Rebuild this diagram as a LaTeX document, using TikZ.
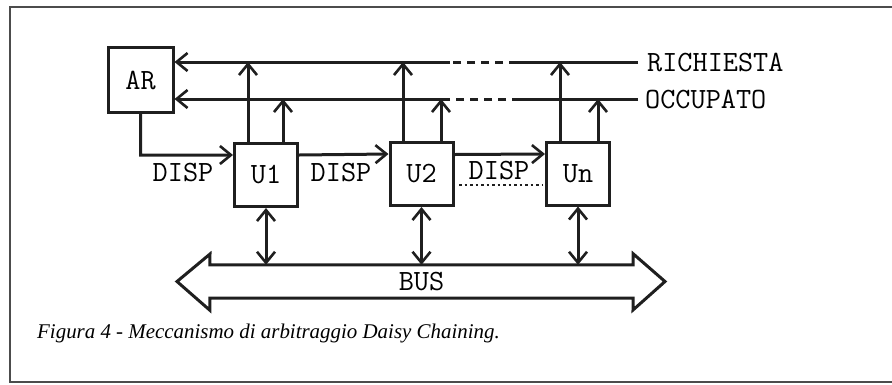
\documentclass[tikz,border=0pt]{standalone}
\usepackage{fontspec}
\setmainfont{Liberation Serif}
\usetikzlibrary{arrows.meta}
\tikzset{
  ln/.style={line width=3bp, draw=black!88},
  tip/.tip={Straight Barb[length=11bp,width=18bp,line width=2.6bp]},
  arr/.style={ln, -tip},
  darr/.style={ln, tip-tip},
  unitbox/.style={ln, minimum width=63bp, minimum height=63bp, inner sep=0pt, font=\mono},
  lbl/.style={inner sep=0pt, font=\mono}
}
\newcommand{\mono}{\fontsize{29.5}{29.5}\selectfont\ttfamily}
\begin{document}
\begin{tikzpicture}[x=1bp,y=-1bp]
\useasboundingbox (0,0) rectangle (892,384);
\begin{scope}
\clip (0,0) rectangle (892,384);
\draw[line width=2.2bp, draw=black!70] (10,7) rectangle (905,382);
\end{scope}
% boxes
\node[unitbox, minimum width=65bp, minimum height=65bp] (AR) at (140.5,80) {AR};
\node[unitbox] (U1) at (266,175) {U1};
\node[unitbox] (U2) at (421.5,174) {U2};
\node[unitbox] (Un) at (578,173.5) {Un};
% bus lines labels
\node[lbl, anchor=west] (ric) at (647,62) {RICHIESTA};
\node[lbl, anchor=west] (occ) at (645,99) {OCCUPATO};
% RICHIESTA line
\coordinate (rA) at (638,62);
\coordinate (rB) at (517,62);
\coordinate (rC) at (450,62);
\coordinate (oA) at (638,99);
\coordinate (oB) at (520,99);
\coordinate (oC) at (446,99);
\draw[ln] (rA) -- (rB);
\draw[ln, dash pattern=on 8bp off 6bp] (rB) -- (rC);
\draw[arr] (rC) -- (AR.east |- rC);
\draw[ln] (oA) -- (oB);
\draw[ln, dash pattern=on 8bp off 6bp] (oB) -- (oC);
\draw[arr] (oC) -- (AR.east |- oC);
% unit up arrows
\draw[arr] (248,0 |- U1.north) -- (248,62);
\draw[arr] (283,0 |- U1.north) -- (283,99);
\draw[arr] (403,0 |- U2.north) -- (403,62);
\draw[arr] (441,0 |- U2.north) -- (441,99);
\draw[arr] (560,0 |- Un.north) -- (560,62);
\draw[arr] (598,0 |- Un.north) -- (598,99);
% daisy chain
\draw[arr] (AR.south) -- (AR.south |- 0,155) -- ([yshift=20bp]U1.west);
\draw[arr] ([yshift=20bp]U1.east) -- ([yshift=20bp]U2.west);
\draw[arr] ([yshift=19.5bp]U2.east) -- ([yshift=19.5bp]Un.west);
\draw[ln, line width=2.4bp, dash pattern=on 2.5bp off 3bp] (459,185) -- (543,185);
\node[lbl] (d1) at (183,173) {DISP};
\node[lbl] (d2) at (341,173) {DISP};
\node[lbl] (d3) at (499,171) {DISP};
% bus
\node[lbl, minimum width=423bp, minimum height=33bp] (bus) at (421.5,281.5) {BUS};
\draw[ln, line join=miter] (bus.north west) -- (bus.north east) -- ++(0,-11) -- (665,281.5) -- (633,310) -- (bus.south east) -- (bus.south west) -- ++(0,12) -- (177,281.5) -- (210,254) -- cycle;
\draw[darr] (U1.south) -- (U1.south |- bus.north);
\draw[darr] (U2.south) -- (U2.south |- bus.north);
\draw[darr] (Un.south) -- (Un.south |- bus.north);
% caption
\node[anchor=west, inner sep=0pt, font=\fontsize{21}{21}\selectfont\itshape] (cap) at (37,333) {Figura 4 - Meccanismo di arbitraggio Daisy Chaining.};
\end{tikzpicture}
\end{document}
